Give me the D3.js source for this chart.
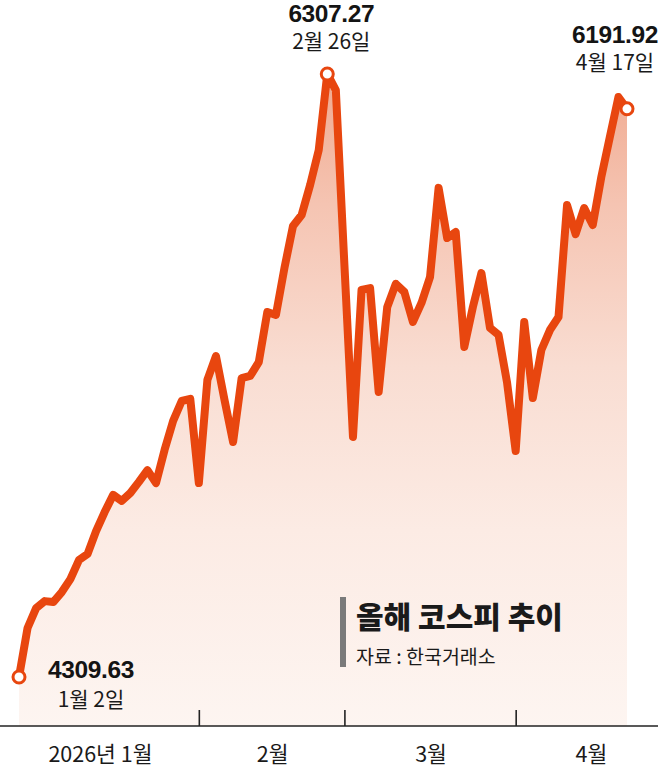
<!DOCTYPE html>
<html>
<head>
<meta charset="utf-8">
<script src="https://cdn.jsdelivr.net/npm/d3@7/dist/d3.min.js"></script>
<style>
  html, body { margin: 0; padding: 0; background: #fff; }
  svg { display: block; }
  .num { font-family: "Liberation Sans", Arial, sans-serif; font-weight: 700; fill: #141414; }
  .kr { font-family: "Noto Sans CJK KR", "Noto Sans", sans-serif; fill: #1a1a1a; }
</style>
</head>
<body>
<svg id="chart" width="658" height="770"></svg>
<script>
// ---- data ----
const dates = [
  "01-02","01-05","01-06","01-07","01-08","01-09","01-12","01-13","01-14","01-15","01-16",
  "01-19","01-20","01-21","01-22","01-23","01-26","01-27","01-28","01-29","01-30",
  "02-02","02-03","02-04","02-05","02-06","02-09","02-10","02-11","02-12","02-13",
  "02-19","02-20","02-23","02-24","02-25","02-26","02-27",
  "03-03","03-04","03-05","03-06","03-09","03-10","03-11","03-12","03-13",
  "03-16","03-17","03-18","03-19","03-20","03-23","03-24","03-25","03-26","03-27","03-30","03-31",
  "04-01","04-02","04-03","04-06","04-07","04-08","04-09","04-10","04-13","04-14","04-15","04-16","04-17"
];
const kospi = [
  4309.63, 4472, 4538, 4561, 4558, 4591, 4634, 4697, 4717, 4793, 4856,
  4913, 4893, 4919, 4956, 4995, 4952, 5062, 5158, 5224, 5231,
  4952, 5294, 5373, 5227, 5088, 5300, 5307, 5353, 5519, 5509,
  5665, 5804, 5840, 5940, 6055, 6307.27, 6254,
  5675, 5105, 5592, 5598, 5254, 5535, 5612, 5585, 5486,
  5549, 5635, 5930, 5764, 5784, 5403, 5535, 5648, 5466, 5443, 5284, 5058,
  5486, 5234, 5393, 5459, 5502, 5873, 5777, 5863, 5807, 5966, 6099, 6231, 6191.92
];
const monthTicks = ["02-02", "03-03", "03-31"];
const monthLabels = ["2026년 1월", "2월", "3월", "4월"];
const highlights = [
  { date: "01-02", value: "4309.63", label: "1월 2일" },
  { date: "02-26", value: "6307.27", label: "2월 26일" },
  { date: "04-17", value: "6191.92", label: "4월 17일" }
];
const title = "올해 코스피 추이";
const source = "자료 : 한국거래소";

// ---- layout ----
const W = 658, H = 770;
const axisY = 726;
const lineColor = "#e8460f";

const svg = d3.select("#chart");
const data = dates.map((d, i) => ({ date: d, v: kospi[i] }));

const x = d3.scalePoint().domain(dates).range([19, 627]).padding(0);
const y = d3.scaleLinear().domain([4309.63, 6307.27]).range([677, 74]);

// gradient
const defs = svg.append("defs");
const grad = defs.append("linearGradient")
  .attr("id", "fillGrad").attr("gradientUnits", "userSpaceOnUse")
  .attr("x1", 0).attr("x2", 0).attr("y1", y(6307.27)).attr("y2", axisY);
[[0, "#f0a98f"], [0.2, "#f5c4b2"], [0.45, "#f9ddd2"], [0.7, "#fcebe4"], [1, "#fdf5f1"]]
  .forEach(([o, c]) => grad.append("stop").attr("offset", o).attr("stop-color", c));

// area
const area = d3.area()
  .x(d => x(d.date)).y0(axisY).y1(d => y(d.v));
svg.append("path").datum(data)
  .attr("d", area).attr("fill", "url(#fillGrad)");

// axis
svg.append("line")
  .attr("x1", 0).attr("x2", W).attr("y1", axisY).attr("y2", axisY)
  .attr("stroke", "#222").attr("stroke-width", 1.6);

const axis = d3.axisBottom(x).tickValues(monthTicks).tickSize(-16).tickFormat("");
const gAxis = svg.append("g").attr("transform", `translate(0,${axisY})`).call(axis);
gAxis.select(".domain").remove();
gAxis.selectAll(".tick line").attr("stroke", "#222").attr("stroke-width", 1.6);

// month labels centered between boundaries
const step = x.step();
const bounds = [0, ...monthTicks.map(d => x(d)), x(dates[dates.length - 1]) + step * 4.45];
monthLabels.forEach((m, i) => {
  svg.append("text").attr("class", "kr")
    .attr("x", (bounds[i] + bounds[i + 1]) / 2 + 1).attr("y", 762)
    .attr("text-anchor", "middle").attr("font-size", 21.5)
    .text(m);
});

// line
const line = d3.line().x(d => x(d.date)).y(d => y(d.v));
svg.append("path").datum(data)
  .attr("d", line).attr("fill", "none")
  .attr("stroke", lineColor).attr("stroke-width", 8)
  .attr("stroke-linejoin", "round").attr("stroke-linecap", "round");

// highlight circles
const hl = highlights.map(h => ({ ...h, cx: x(h.date), cy: y(kospi[dates.indexOf(h.date)]) }));
svg.selectAll("circle.hl").data(hl).enter().append("circle")
  .attr("class", "hl")
  .attr("cx", d => d.cx).attr("cy", d => d.cy).attr("r", 6)
  .attr("fill", "#fff").attr("stroke", lineColor).attr("stroke-width", 3);

// labels (offsets per annotation)
const labelOffsets = [
  { dx: 72, dnum: 1, ddate: 30 },
  { dx: 4, dnum: -52, ddate: -25 },
  { dx: -12, dnum: -66, ddate: -39 }
];
hl.forEach((d, i) => {
  const o = labelOffsets[i];
  svg.append("text").attr("class", "num")
    .attr("x", d.cx + o.dx).attr("y", d.cy + o.dnum)
    .attr("text-anchor", "middle").attr("font-size", 24.5)
    .attr("letter-spacing", -0.4)
    .text(d.value);
  svg.append("text").attr("class", "kr")
    .attr("x", d.cx + o.dx).attr("y", d.cy + o.ddate)
    .attr("text-anchor", "middle").attr("font-size", 21)
    .text(d.label);
});

// title block
svg.append("rect").attr("x", 340).attr("y", 597).attr("width", 6).attr("height", 70).attr("fill", "#7a7a7a");
svg.append("text").attr("class", "kr")
  .attr("x", 356).attr("y", 628).attr("font-size", 30).attr("font-weight", 900)
  .attr("fill", "#111").text(title);
svg.append("text").attr("class", "kr")
  .attr("x", 356).attr("y", 664).attr("font-size", 19.5).attr("fill", "#2a2a2a")
  .text(source);
</script>
</body>
</html>
